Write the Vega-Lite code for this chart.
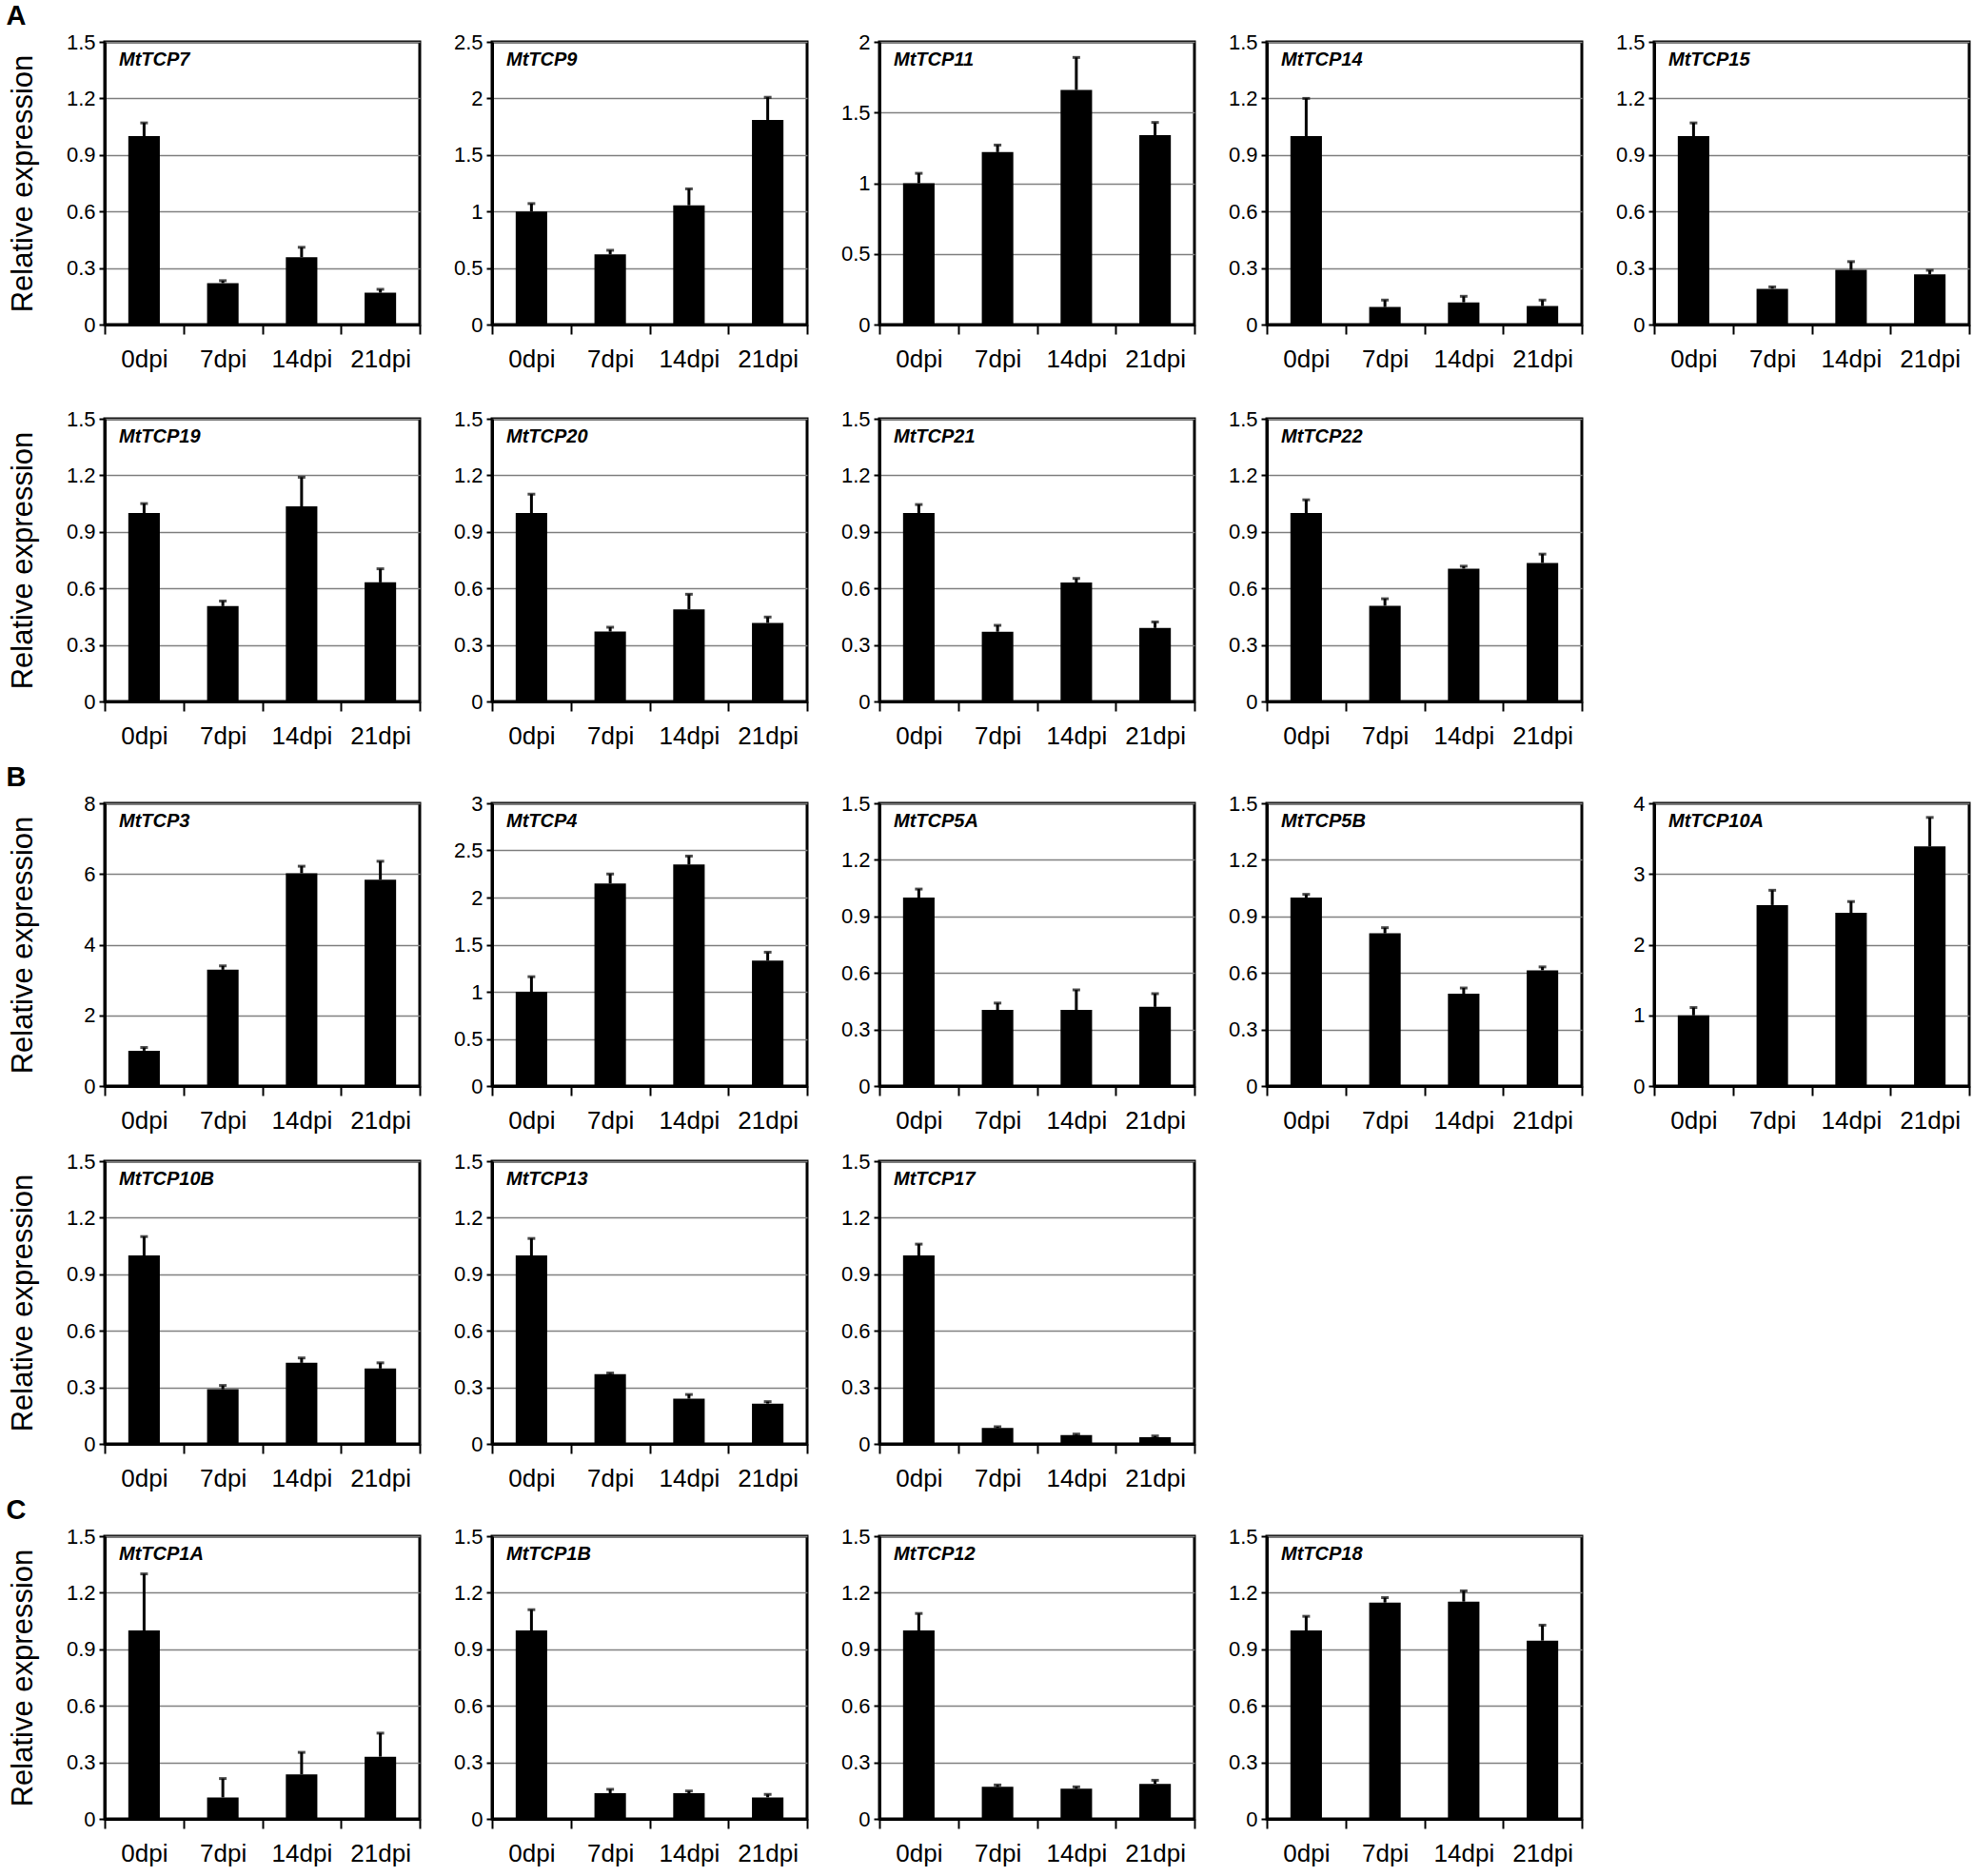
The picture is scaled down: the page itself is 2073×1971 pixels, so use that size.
{
  "$schema": "https://vega.github.io/schema/vega-lite/v6.json",
  "padding": {"left": 6, "top": 2, "right": 5, "bottom": 5},
  "data": {
    "values": [
      {"g": "MtTCP7", "d": "0dpi", "v": 1, "u": 1.07},
      {"g": "MtTCP7", "d": "7dpi", "v": 0.22, "u": 0.233},
      {"g": "MtTCP7", "d": "14dpi", "v": 0.357, "u": 0.41},
      {"g": "MtTCP7", "d": "21dpi", "v": 0.169, "u": 0.187},
      {"g": "MtTCP9", "d": "0dpi", "v": 1, "u": 1.07},
      {"g": "MtTCP9", "d": "7dpi", "v": 0.62, "u": 0.657},
      {"g": "MtTCP9", "d": "14dpi", "v": 1.055, "u": 1.2},
      {"g": "MtTCP9", "d": "21dpi", "v": 1.81, "u": 2.01},
      {"g": "MtTCP11", "d": "0dpi", "v": 1, "u": 1.07},
      {"g": "MtTCP11", "d": "7dpi", "v": 1.22, "u": 1.27},
      {"g": "MtTCP11", "d": "14dpi", "v": 1.66, "u": 1.89},
      {"g": "MtTCP11", "d": "21dpi", "v": 1.34, "u": 1.43},
      {"g": "MtTCP14", "d": "0dpi", "v": 1, "u": 1.2},
      {"g": "MtTCP14", "d": "7dpi", "v": 0.093, "u": 0.13},
      {"g": "MtTCP14", "d": "14dpi", "v": 0.118, "u": 0.15},
      {"g": "MtTCP14", "d": "21dpi", "v": 0.098, "u": 0.13},
      {"g": "MtTCP15", "d": "0dpi", "v": 1, "u": 1.07},
      {"g": "MtTCP15", "d": "7dpi", "v": 0.19, "u": 0.2},
      {"g": "MtTCP15", "d": "14dpi", "v": 0.29, "u": 0.334},
      {"g": "MtTCP15", "d": "21dpi", "v": 0.266, "u": 0.288},
      {"g": "MtTCP19", "d": "0dpi", "v": 1, "u": 1.05},
      {"g": "MtTCP19", "d": "7dpi", "v": 0.506, "u": 0.533},
      {"g": "MtTCP19", "d": "14dpi", "v": 1.035, "u": 1.19},
      {"g": "MtTCP19", "d": "21dpi", "v": 0.632, "u": 0.704},
      {"g": "MtTCP20", "d": "0dpi", "v": 1, "u": 1.1},
      {"g": "MtTCP20", "d": "7dpi", "v": 0.371, "u": 0.394},
      {"g": "MtTCP20", "d": "14dpi", "v": 0.489, "u": 0.569},
      {"g": "MtTCP20", "d": "21dpi", "v": 0.417, "u": 0.448},
      {"g": "MtTCP21", "d": "0dpi", "v": 1, "u": 1.045},
      {"g": "MtTCP21", "d": "7dpi", "v": 0.37, "u": 0.404},
      {"g": "MtTCP21", "d": "14dpi", "v": 0.631, "u": 0.653},
      {"g": "MtTCP21", "d": "21dpi", "v": 0.39, "u": 0.422},
      {"g": "MtTCP22", "d": "0dpi", "v": 1, "u": 1.07},
      {"g": "MtTCP22", "d": "7dpi", "v": 0.508, "u": 0.545},
      {"g": "MtTCP22", "d": "14dpi", "v": 0.705, "u": 0.718},
      {"g": "MtTCP22", "d": "21dpi", "v": 0.735, "u": 0.782},
      {"g": "MtTCP3", "d": "0dpi", "v": 1, "u": 1.09},
      {"g": "MtTCP3", "d": "7dpi", "v": 3.29, "u": 3.4},
      {"g": "MtTCP3", "d": "14dpi", "v": 6.02, "u": 6.22},
      {"g": "MtTCP3", "d": "21dpi", "v": 5.84, "u": 6.36},
      {"g": "MtTCP4", "d": "0dpi", "v": 1, "u": 1.16},
      {"g": "MtTCP4", "d": "7dpi", "v": 2.15, "u": 2.25},
      {"g": "MtTCP4", "d": "14dpi", "v": 2.35, "u": 2.44},
      {"g": "MtTCP4", "d": "21dpi", "v": 1.33, "u": 1.42},
      {"g": "MtTCP5A", "d": "0dpi", "v": 1, "u": 1.045},
      {"g": "MtTCP5A", "d": "7dpi", "v": 0.404, "u": 0.44},
      {"g": "MtTCP5A", "d": "14dpi", "v": 0.404, "u": 0.51},
      {"g": "MtTCP5A", "d": "21dpi", "v": 0.42, "u": 0.49},
      {"g": "MtTCP5B", "d": "0dpi", "v": 1, "u": 1.017},
      {"g": "MtTCP5B", "d": "7dpi", "v": 0.81, "u": 0.84},
      {"g": "MtTCP5B", "d": "14dpi", "v": 0.49, "u": 0.52},
      {"g": "MtTCP5B", "d": "21dpi", "v": 0.614, "u": 0.632},
      {"g": "MtTCP10A", "d": "0dpi", "v": 1, "u": 1.11},
      {"g": "MtTCP10A", "d": "7dpi", "v": 2.56, "u": 2.77},
      {"g": "MtTCP10A", "d": "14dpi", "v": 2.45, "u": 2.61},
      {"g": "MtTCP10A", "d": "21dpi", "v": 3.39, "u": 3.8},
      {"g": "MtTCP10B", "d": "0dpi", "v": 1, "u": 1.1},
      {"g": "MtTCP10B", "d": "7dpi", "v": 0.29, "u": 0.31},
      {"g": "MtTCP10B", "d": "14dpi", "v": 0.43, "u": 0.456},
      {"g": "MtTCP10B", "d": "21dpi", "v": 0.4, "u": 0.43},
      {"g": "MtTCP13", "d": "0dpi", "v": 1, "u": 1.09},
      {"g": "MtTCP13", "d": "7dpi", "v": 0.37, "u": 0.376},
      {"g": "MtTCP13", "d": "14dpi", "v": 0.24, "u": 0.262},
      {"g": "MtTCP13", "d": "21dpi", "v": 0.214, "u": 0.224},
      {"g": "MtTCP17", "d": "0dpi", "v": 1, "u": 1.06},
      {"g": "MtTCP17", "d": "7dpi", "v": 0.084, "u": 0.091},
      {"g": "MtTCP17", "d": "14dpi", "v": 0.047, "u": 0.052},
      {"g": "MtTCP17", "d": "21dpi", "v": 0.035, "u": 0.042},
      {"g": "MtTCP1A", "d": "0dpi", "v": 1, "u": 1.3},
      {"g": "MtTCP1A", "d": "7dpi", "v": 0.114, "u": 0.214},
      {"g": "MtTCP1A", "d": "14dpi", "v": 0.236, "u": 0.353},
      {"g": "MtTCP1A", "d": "21dpi", "v": 0.33, "u": 0.455},
      {"g": "MtTCP1B", "d": "0dpi", "v": 1, "u": 1.11},
      {"g": "MtTCP1B", "d": "7dpi", "v": 0.136, "u": 0.157},
      {"g": "MtTCP1B", "d": "14dpi", "v": 0.136, "u": 0.148},
      {"g": "MtTCP1B", "d": "21dpi", "v": 0.114, "u": 0.13},
      {"g": "MtTCP12", "d": "0dpi", "v": 1, "u": 1.09},
      {"g": "MtTCP12", "d": "7dpi", "v": 0.17, "u": 0.18},
      {"g": "MtTCP12", "d": "14dpi", "v": 0.16, "u": 0.17},
      {"g": "MtTCP12", "d": "21dpi", "v": 0.185, "u": 0.205},
      {"g": "MtTCP18", "d": "0dpi", "v": 1, "u": 1.075},
      {"g": "MtTCP18", "d": "7dpi", "v": 1.148, "u": 1.174},
      {"g": "MtTCP18", "d": "14dpi", "v": 1.153, "u": 1.21},
      {"g": "MtTCP18", "d": "21dpi", "v": 0.946, "u": 1.028}
    ]
  },
  "spacing": 14,
  "vconcat": [
    {
      "title": {"text": "A", "fontSize": 29, "fontStyle": "normal", "offset": 0, "dx": 0, "frame": "bounds", "font": "Liberation Sans"},
      "spacing": 35,
      "vconcat": [
        {"bounds": "flush", "spacing": 76, "hconcat": [
          {"title": "MtTCP7", "width": 331, "height": 297, "transform": [{"filter": "datum.g == 'MtTCP7'"}],
           "encoding": {"x": {"field": "d", "type": "nominal", "sort": null, "title": null},
             "y": {"field": "v", "type": "quantitative", "title": "Relative expression", "scale": {"domain": [0, 1.5]}, "axis": {"values": [0, 0.3, 0.6, 0.9, 1.2, 1.5]}}},
           "layer": [{"mark": {"type": "bar", "width": {"band": 0.4}}}, {"mark": "rule", "encoding": {"y2": {"field": "u"}}}, {"mark": {"type": "tick", "size": 8}, "encoding": {"y": {"field": "u", "type": "quantitative"}}}]},
          {"title": "MtTCP9", "width": 331, "height": 297, "transform": [{"filter": "datum.g == 'MtTCP9'"}],
           "encoding": {"x": {"field": "d", "type": "nominal", "sort": null, "title": null},
             "y": {"field": "v", "type": "quantitative", "title": null, "scale": {"domain": [0, 2.5]}, "axis": {"values": [0, 0.5, 1, 1.5, 2, 2.5]}}},
           "layer": [{"mark": {"type": "bar", "width": {"band": 0.4}}}, {"mark": "rule", "encoding": {"y2": {"field": "u"}}}, {"mark": {"type": "tick", "size": 8}, "encoding": {"y": {"field": "u", "type": "quantitative"}}}]},
          {"title": "MtTCP11", "width": 331, "height": 297, "transform": [{"filter": "datum.g == 'MtTCP11'"}],
           "encoding": {"x": {"field": "d", "type": "nominal", "sort": null, "title": null},
             "y": {"field": "v", "type": "quantitative", "title": null, "scale": {"domain": [0, 2]}, "axis": {"values": [0, 0.5, 1, 1.5, 2]}}},
           "layer": [{"mark": {"type": "bar", "width": {"band": 0.4}}}, {"mark": "rule", "encoding": {"y2": {"field": "u"}}}, {"mark": {"type": "tick", "size": 8}, "encoding": {"y": {"field": "u", "type": "quantitative"}}}]},
          {"title": "MtTCP14", "width": 331, "height": 297, "transform": [{"filter": "datum.g == 'MtTCP14'"}],
           "encoding": {"x": {"field": "d", "type": "nominal", "sort": null, "title": null},
             "y": {"field": "v", "type": "quantitative", "title": null, "scale": {"domain": [0, 1.5]}, "axis": {"values": [0, 0.3, 0.6, 0.9, 1.2, 1.5]}}},
           "layer": [{"mark": {"type": "bar", "width": {"band": 0.4}}}, {"mark": "rule", "encoding": {"y2": {"field": "u"}}}, {"mark": {"type": "tick", "size": 8}, "encoding": {"y": {"field": "u", "type": "quantitative"}}}]},
          {"title": "MtTCP15", "width": 331, "height": 297, "transform": [{"filter": "datum.g == 'MtTCP15'"}],
           "encoding": {"x": {"field": "d", "type": "nominal", "sort": null, "title": null},
             "y": {"field": "v", "type": "quantitative", "title": null, "scale": {"domain": [0, 1.5]}, "axis": {"values": [0, 0.3, 0.6, 0.9, 1.2, 1.5]}}},
           "layer": [{"mark": {"type": "bar", "width": {"band": 0.4}}}, {"mark": "rule", "encoding": {"y2": {"field": "u"}}}, {"mark": {"type": "tick", "size": 8}, "encoding": {"y": {"field": "u", "type": "quantitative"}}}]}
        ]},
        {"bounds": "flush", "spacing": 76, "hconcat": [
          {"title": "MtTCP19", "width": 331, "height": 297, "transform": [{"filter": "datum.g == 'MtTCP19'"}],
           "encoding": {"x": {"field": "d", "type": "nominal", "sort": null, "title": null},
             "y": {"field": "v", "type": "quantitative", "title": "Relative expression", "scale": {"domain": [0, 1.5]}, "axis": {"values": [0, 0.3, 0.6, 0.9, 1.2, 1.5]}}},
           "layer": [{"mark": {"type": "bar", "width": {"band": 0.4}}}, {"mark": "rule", "encoding": {"y2": {"field": "u"}}}, {"mark": {"type": "tick", "size": 8}, "encoding": {"y": {"field": "u", "type": "quantitative"}}}]},
          {"title": "MtTCP20", "width": 331, "height": 297, "transform": [{"filter": "datum.g == 'MtTCP20'"}],
           "encoding": {"x": {"field": "d", "type": "nominal", "sort": null, "title": null},
             "y": {"field": "v", "type": "quantitative", "title": null, "scale": {"domain": [0, 1.5]}, "axis": {"values": [0, 0.3, 0.6, 0.9, 1.2, 1.5]}}},
           "layer": [{"mark": {"type": "bar", "width": {"band": 0.4}}}, {"mark": "rule", "encoding": {"y2": {"field": "u"}}}, {"mark": {"type": "tick", "size": 8}, "encoding": {"y": {"field": "u", "type": "quantitative"}}}]},
          {"title": "MtTCP21", "width": 331, "height": 297, "transform": [{"filter": "datum.g == 'MtTCP21'"}],
           "encoding": {"x": {"field": "d", "type": "nominal", "sort": null, "title": null},
             "y": {"field": "v", "type": "quantitative", "title": null, "scale": {"domain": [0, 1.5]}, "axis": {"values": [0, 0.3, 0.6, 0.9, 1.2, 1.5]}}},
           "layer": [{"mark": {"type": "bar", "width": {"band": 0.4}}}, {"mark": "rule", "encoding": {"y2": {"field": "u"}}}, {"mark": {"type": "tick", "size": 8}, "encoding": {"y": {"field": "u", "type": "quantitative"}}}]},
          {"title": "MtTCP22", "width": 331, "height": 297, "transform": [{"filter": "datum.g == 'MtTCP22'"}],
           "encoding": {"x": {"field": "d", "type": "nominal", "sort": null, "title": null},
             "y": {"field": "v", "type": "quantitative", "title": null, "scale": {"domain": [0, 1.5]}, "axis": {"values": [0, 0.3, 0.6, 0.9, 1.2, 1.5]}}},
           "layer": [{"mark": {"type": "bar", "width": {"band": 0.4}}}, {"mark": "rule", "encoding": {"y2": {"field": "u"}}}, {"mark": {"type": "tick", "size": 8}, "encoding": {"y": {"field": "u", "type": "quantitative"}}}]}
        ]}
      ]
    },
    {
      "spacing": 4,
      "vconcat": [
        {
          "title": {"text": "B", "fontSize": 29, "fontStyle": "normal", "offset": 0, "dx": 0, "frame": "bounds", "font": "Liberation Sans"},
          "spacing": 15,
          "vconcat": [
            {"bounds": "flush", "spacing": 76, "hconcat": [
              {"title": "MtTCP3", "width": 331, "height": 297, "transform": [{"filter": "datum.g == 'MtTCP3'"}],
               "encoding": {"x": {"field": "d", "type": "nominal", "sort": null, "title": null},
                 "y": {"field": "v", "type": "quantitative", "title": "Relative expression", "scale": {"domain": [0, 8]}, "axis": {"values": [0, 2, 4, 6, 8]}}},
               "layer": [{"mark": {"type": "bar", "width": {"band": 0.4}}}, {"mark": "rule", "encoding": {"y2": {"field": "u"}}}, {"mark": {"type": "tick", "size": 8}, "encoding": {"y": {"field": "u", "type": "quantitative"}}}]},
              {"title": "MtTCP4", "width": 331, "height": 297, "transform": [{"filter": "datum.g == 'MtTCP4'"}],
               "encoding": {"x": {"field": "d", "type": "nominal", "sort": null, "title": null},
                 "y": {"field": "v", "type": "quantitative", "title": null, "scale": {"domain": [0, 3]}, "axis": {"values": [0, 0.5, 1, 1.5, 2, 2.5, 3]}}},
               "layer": [{"mark": {"type": "bar", "width": {"band": 0.4}}}, {"mark": "rule", "encoding": {"y2": {"field": "u"}}}, {"mark": {"type": "tick", "size": 8}, "encoding": {"y": {"field": "u", "type": "quantitative"}}}]},
              {"title": "MtTCP5A", "width": 331, "height": 297, "transform": [{"filter": "datum.g == 'MtTCP5A'"}],
               "encoding": {"x": {"field": "d", "type": "nominal", "sort": null, "title": null},
                 "y": {"field": "v", "type": "quantitative", "title": null, "scale": {"domain": [0, 1.5]}, "axis": {"values": [0, 0.3, 0.6, 0.9, 1.2, 1.5]}}},
               "layer": [{"mark": {"type": "bar", "width": {"band": 0.4}}}, {"mark": "rule", "encoding": {"y2": {"field": "u"}}}, {"mark": {"type": "tick", "size": 8}, "encoding": {"y": {"field": "u", "type": "quantitative"}}}]},
              {"title": "MtTCP5B", "width": 331, "height": 297, "transform": [{"filter": "datum.g == 'MtTCP5B'"}],
               "encoding": {"x": {"field": "d", "type": "nominal", "sort": null, "title": null},
                 "y": {"field": "v", "type": "quantitative", "title": null, "scale": {"domain": [0, 1.5]}, "axis": {"values": [0, 0.3, 0.6, 0.9, 1.2, 1.5]}}},
               "layer": [{"mark": {"type": "bar", "width": {"band": 0.4}}}, {"mark": "rule", "encoding": {"y2": {"field": "u"}}}, {"mark": {"type": "tick", "size": 8}, "encoding": {"y": {"field": "u", "type": "quantitative"}}}]},
              {"title": "MtTCP10A", "width": 331, "height": 297, "transform": [{"filter": "datum.g == 'MtTCP10A'"}],
               "encoding": {"x": {"field": "d", "type": "nominal", "sort": null, "title": null},
                 "y": {"field": "v", "type": "quantitative", "title": null, "scale": {"domain": [0, 4]}, "axis": {"values": [0, 1, 2, 3, 4]}}},
               "layer": [{"mark": {"type": "bar", "width": {"band": 0.4}}}, {"mark": "rule", "encoding": {"y2": {"field": "u"}}}, {"mark": {"type": "tick", "size": 8}, "encoding": {"y": {"field": "u", "type": "quantitative"}}}]}
            ]},
            {"bounds": "flush", "spacing": 76, "hconcat": [
              {"title": "MtTCP10B", "width": 331, "height": 297, "transform": [{"filter": "datum.g == 'MtTCP10B'"}],
               "encoding": {"x": {"field": "d", "type": "nominal", "sort": null, "title": null},
                 "y": {"field": "v", "type": "quantitative", "title": "Relative expression", "scale": {"domain": [0, 1.5]}, "axis": {"values": [0, 0.3, 0.6, 0.9, 1.2, 1.5]}}},
               "layer": [{"mark": {"type": "bar", "width": {"band": 0.4}}}, {"mark": "rule", "encoding": {"y2": {"field": "u"}}}, {"mark": {"type": "tick", "size": 8}, "encoding": {"y": {"field": "u", "type": "quantitative"}}}]},
              {"title": "MtTCP13", "width": 331, "height": 297, "transform": [{"filter": "datum.g == 'MtTCP13'"}],
               "encoding": {"x": {"field": "d", "type": "nominal", "sort": null, "title": null},
                 "y": {"field": "v", "type": "quantitative", "title": null, "scale": {"domain": [0, 1.5]}, "axis": {"values": [0, 0.3, 0.6, 0.9, 1.2, 1.5]}}},
               "layer": [{"mark": {"type": "bar", "width": {"band": 0.4}}}, {"mark": "rule", "encoding": {"y2": {"field": "u"}}}, {"mark": {"type": "tick", "size": 8}, "encoding": {"y": {"field": "u", "type": "quantitative"}}}]},
              {"title": "MtTCP17", "width": 331, "height": 297, "transform": [{"filter": "datum.g == 'MtTCP17'"}],
               "encoding": {"x": {"field": "d", "type": "nominal", "sort": null, "title": null},
                 "y": {"field": "v", "type": "quantitative", "title": null, "scale": {"domain": [0, 1.5]}, "axis": {"values": [0, 0.3, 0.6, 0.9, 1.2, 1.5]}}},
               "layer": [{"mark": {"type": "bar", "width": {"band": 0.4}}}, {"mark": "rule", "encoding": {"y2": {"field": "u"}}}, {"mark": {"type": "tick", "size": 8}, "encoding": {"y": {"field": "u", "type": "quantitative"}}}]}
            ]}
          ]
        },
        {
          "title": {"text": "C", "fontSize": 29, "fontStyle": "normal", "offset": 0, "dx": 0, "frame": "bounds", "font": "Liberation Sans"},
          "vconcat": [
            {"bounds": "flush", "spacing": 76, "hconcat": [
              {"title": "MtTCP1A", "width": 331, "height": 297, "transform": [{"filter": "datum.g == 'MtTCP1A'"}],
               "encoding": {"x": {"field": "d", "type": "nominal", "sort": null, "title": null},
                 "y": {"field": "v", "type": "quantitative", "title": "Relative expression", "scale": {"domain": [0, 1.5]}, "axis": {"values": [0, 0.3, 0.6, 0.9, 1.2, 1.5]}}},
               "layer": [{"mark": {"type": "bar", "width": {"band": 0.4}}}, {"mark": "rule", "encoding": {"y2": {"field": "u"}}}, {"mark": {"type": "tick", "size": 8}, "encoding": {"y": {"field": "u", "type": "quantitative"}}}]},
              {"title": "MtTCP1B", "width": 331, "height": 297, "transform": [{"filter": "datum.g == 'MtTCP1B'"}],
               "encoding": {"x": {"field": "d", "type": "nominal", "sort": null, "title": null},
                 "y": {"field": "v", "type": "quantitative", "title": null, "scale": {"domain": [0, 1.5]}, "axis": {"values": [0, 0.3, 0.6, 0.9, 1.2, 1.5]}}},
               "layer": [{"mark": {"type": "bar", "width": {"band": 0.4}}}, {"mark": "rule", "encoding": {"y2": {"field": "u"}}}, {"mark": {"type": "tick", "size": 8}, "encoding": {"y": {"field": "u", "type": "quantitative"}}}]},
              {"title": "MtTCP12", "width": 331, "height": 297, "transform": [{"filter": "datum.g == 'MtTCP12'"}],
               "encoding": {"x": {"field": "d", "type": "nominal", "sort": null, "title": null},
                 "y": {"field": "v", "type": "quantitative", "title": null, "scale": {"domain": [0, 1.5]}, "axis": {"values": [0, 0.3, 0.6, 0.9, 1.2, 1.5]}}},
               "layer": [{"mark": {"type": "bar", "width": {"band": 0.4}}}, {"mark": "rule", "encoding": {"y2": {"field": "u"}}}, {"mark": {"type": "tick", "size": 8}, "encoding": {"y": {"field": "u", "type": "quantitative"}}}]},
              {"title": "MtTCP18", "width": 331, "height": 297, "transform": [{"filter": "datum.g == 'MtTCP18'"}],
               "encoding": {"x": {"field": "d", "type": "nominal", "sort": null, "title": null},
                 "y": {"field": "v", "type": "quantitative", "title": null, "scale": {"domain": [0, 1.5]}, "axis": {"values": [0, 0.3, 0.6, 0.9, 1.2, 1.5]}}},
               "layer": [{"mark": {"type": "bar", "width": {"band": 0.4}}}, {"mark": "rule", "encoding": {"y2": {"field": "u"}}}, {"mark": {"type": "tick", "size": 8}, "encoding": {"y": {"field": "u", "type": "quantitative"}}}]}
            ]}
          ]
        }
      ]
    }
  ],
  "config": {
    "font": "Liberation Sans",
    "view": {"stroke": "black", "strokeWidth": 3},
    "scale": {"bandPaddingInner": 0, "bandPaddingOuter": 0, "barBandPaddingInner": 0},
    "bar": {"color": "black"},
    "rule": {"color": "black", "strokeWidth": 3},
    "tick": {"color": "black", "thickness": 3},
    "axis": {"domainColor": "black", "domainWidth": 3, "tickColor": "black", "labelColor": "black", "titleColor": "black", "labelFont": "Liberation Sans", "titleFont": "Liberation Sans"},
    "axisX": {"labelAngle": 0, "tickBand": "extent", "tickSize": 10, "tickWidth": 2, "labelFontSize": 26, "labelPadding": 13, "grid": false},
    "axisY": {"grid": true, "gridColor": "#808080", "gridWidth": 1.5, "tickSize": 6, "tickWidth": 2, "labelFontSize": 22, "labelPadding": 4, "minExtent": 40, "maxExtent": 40, "titleFontSize": 31, "titleFontWeight": "normal", "titlePadding": 30, "format": "~g"},
    "title": {"anchor": "start", "frame": "group", "fontSize": 20, "fontWeight": "bold", "fontStyle": "italic", "offset": -40, "dx": 15, "color": "black", "font": "Liberation Sans"}
  }
}
